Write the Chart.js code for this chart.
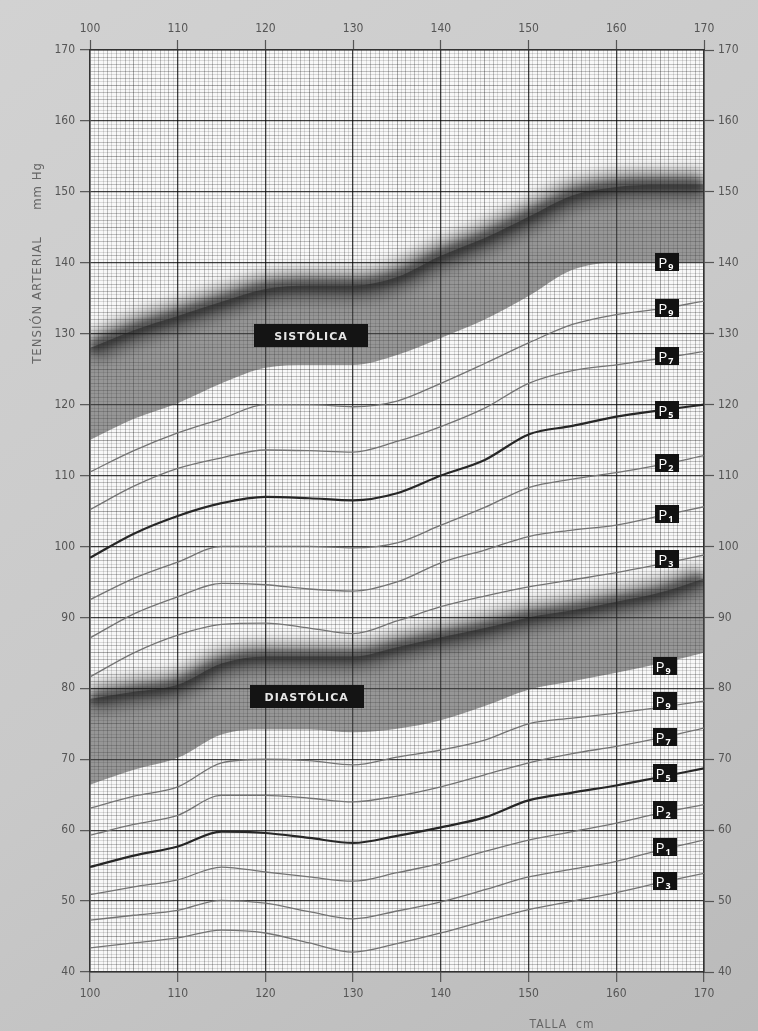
<!DOCTYPE html>
<html><head><meta charset="utf-8">
<script src="https://cdn.jsdelivr.net/npm/chart.js@4.4.1/dist/chart.umd.min.js"></script>
<style>html,body{margin:0;padding:0;background:#c8c8c8;overflow:hidden}#wrap{width:758px;height:1031px}</style>
</head><body><div id="wrap"><canvas id="c" width="758" height="1031"></canvas></div>
<script>
// ---- data (height in cm vs blood pressure in mm Hg) ----
const heights = [100,105,110,115,120,125,130,135,140,145,150,155,160,165,170];
// systolic
const sysUpper = [128,130.5,132.5,134.5,136.3,136.8,136.8,138,141,143.5,146.5,149.5,150.7,151,151];
const sysP97 = [115,118,120.2,123,125.2,125.6,125.6,127,129.4,132,135.3,139,140,140,140];
const sysP90 = [110.5,113.5,116,118,120,120,119.7,120.5,123,125.8,128.7,131.3,132.7,133.5,134.6];
const sysP75 = [105.2,108.5,111,112.5,113.6,113.5,113.3,114.8,116.9,119.5,123,124.8,125.6,126.5,127.5];
const sysP50 = [98.4,101.8,104.3,106.1,107,106.8,106.5,107.5,110,112.2,115.8,117,118.3,119.2,120];
const sysP25 = [92.5,95.5,97.8,100,100,100,99.8,100.5,103,105.5,108.3,109.5,110.4,111.5,112.8];
const sysP10 = [87.1,90.5,92.9,94.8,94.6,94,93.7,95,97.7,99.5,101.4,102.3,103,104.3,105.6];
const sysP3  = [81.6,85,87.5,89,89.2,88.5,87.7,89.5,91.5,93,94.3,95.3,96.3,97.5,98.8];
// diastolic
const diaUpper = [78.5,79.5,80.5,83.5,84.5,84.5,84.5,85.8,87.2,88.5,90,91,92.2,93.5,95.5];
const diaP97 = [66.4,68.5,70.2,73.5,74.2,74.2,73.8,74.3,75.5,77.5,79.8,81,82.2,83.5,85];
const diaP90 = [63.1,64.8,66.1,69.5,70,69.8,69.2,70.3,71.3,72.7,75,75.8,76.5,77.3,78.2];
const diaP75 = [59.3,60.8,62.1,64.9,64.9,64.5,64,64.8,66.1,67.8,69.5,70.8,71.8,73,74.4];
const diaP50 = [54.8,56.4,57.7,59.8,59.6,58.9,58.2,59.2,60.4,61.8,64.2,65.3,66.3,67.5,68.7];
const diaP25 = [50.9,52,53,54.8,54.1,53.4,52.8,54,55.3,57,58.6,59.8,61,62.4,63.6];
const diaP10 = [47.3,48,48.7,50.1,49.7,48.5,47.5,48.6,49.9,51.6,53.4,54.5,55.6,57.2,58.6];
const diaP3  = [43.4,44.1,44.8,45.9,45.5,44.1,42.8,44,45.5,47.2,48.8,50,51.2,52.6,53.9];
// percentile tags at the right
const tagDigits = ['9','9','7','5','2','1','3'];
const sysTagY = [140.1,133.6,126.9,119.3,111.8,104.6,98.3];
const diaTagY = [83.1,78.2,73.1,68.1,62.8,57.6,52.8];
const sysTagX = 165.8, diaTagX = 165.5;
// band names
const bandNames = ['SISTÓLICA','DIASTÓLICA'];
const bandNameX = [125.2,124.7];
const bandNameY = [129.7,78.8];
// axis ranges / titles
const xMin = 100, xMax = 170, yMin = 40, yMax = 170;
const yTitleA = 'TENSIÓN ARTERIAL';
const yTitleB = 'mm Hg';
const xTitle = 'TALLA  cm';

const FONT = "'DejaVu Sans Condensed','DejaVu Sans',sans-serif";
const snap = v => Math.round(v*2)/2;
const pts = arr => heights.map((h,i)=>({x:h,y:arr[i]}));

function gcol(ctx){
  const v = snap(ctx.tick.value);
  if (v%10===0) return 'rgba(0,0,0,0.75)';
  if (v%5===0) return 'rgba(0,0,0,0.32)';
  if (v%1===0) return 'rgba(0,0,0,0.23)';
  return 'rgba(0,0,0,0.12)';
}
function gw(ctx){
  const v = snap(ctx.tick.value);
  if (v%10===0) return 1.3;
  return 1;
}
function tcol(ctx){ return snap(ctx.tick.value)%10===0 ? '#555' : 'rgba(0,0,0,0)'; }
function tlab(v){ v = snap(v); return v%10===0 ? String(v) : ''; }

function line(arr, color, width, order){
  return {data: pts(arr), borderColor: color, borderWidth: width, pointRadius: 0,
          fill: false, cubicInterpolationMode: 'monotone', order: order};
}
function blurLine(arr, color, width, blur){
  const d = line(arr, color, width, 10); d.blurPx = blur; return d;
}

const grey = 'rgba(70,70,70,0.55)';
const datasets = [
  {data: pts(sysUpper), borderWidth: 0, pointRadius: 0, fill: '+1', backgroundColor: grey, cubicInterpolationMode:'monotone', order: 20},
  {data: pts(sysP97), borderWidth: 0, pointRadius: 0, fill: false, cubicInterpolationMode:'monotone', order: 20},
  {data: pts(diaUpper), borderWidth: 0, pointRadius: 0, fill: '+1', backgroundColor: grey, cubicInterpolationMode:'monotone', order: 20},
  {data: pts(diaP97), borderWidth: 0, pointRadius: 0, fill: false, cubicInterpolationMode:'monotone', order: 20},
  blurLine(sysUpper,'rgba(25,25,25,0.5)',28,7), blurLine(sysUpper,'rgba(20,20,20,0.45)',12,3),
  blurLine(diaUpper,'rgba(25,25,25,0.5)',26,7), blurLine(diaUpper,'rgba(20,20,20,0.45)',11,3),
  line(sysP90,'#747474',1.3,1), line(sysP75,'#747474',1.3,1), line(sysP50,'#262626',2.2,1),
  line(sysP25,'#747474',1.3,1), line(sysP10,'#747474',1.3,1), line(sysP3,'#747474',1.3,1),
  line(diaP90,'#747474',1.3,1), line(diaP75,'#747474',1.3,1), line(diaP50,'#262626',2.2,1),
  line(diaP25,'#747474',1.3,1), line(diaP10,'#747474',1.3,1), line(diaP3,'#747474',1.3,1)
];

const blurPlugin = {
  id:'blurPlugin',
  beforeDatasetDraw(chart, args){
    const ds = chart.data.datasets[args.index];
    if (ds.blurPx){ chart.ctx.save(); chart.ctx.filter = 'blur(' + ds.blurPx + 'px)'; }
  },
  afterDatasetDraw(chart, args){
    const ds = chart.data.datasets[args.index];
    if (ds.blurPx){ chart.ctx.restore(); }
  }
};
const paper = {
  id:'paper',
  beforeDraw(chart){
    const {ctx, chartArea:a} = chart;
    ctx.save();
    const g = ctx.createLinearGradient(0,0,758,1031);
    g.addColorStop(0,'#d2d2d2'); g.addColorStop(0.5,'#c9c9c9'); g.addColorStop(1,'#bababa');
    ctx.fillStyle = g; ctx.fillRect(0,0,758,1031);
    ctx.fillStyle = '#f8f8f8';
    ctx.fillRect(a.left,a.top,a.right-a.left,a.bottom-a.top);
    ctx.restore();
  }
};
const tags = {
  id:'tags',
  afterDatasetsDraw(chart){
    const {ctx, scales:{x,y}} = chart;
    ctx.save();
    function tag(ux,uy,d){
      const px = x.getPixelForValue(ux), py = y.getPixelForValue(uy);
      ctx.fillStyle = '#121212';
      ctx.fillRect(Math.round(px-12), Math.round(py-9), 24, 18);
      ctx.fillStyle = '#ffffff';
      ctx.textBaseline = 'alphabetic'; ctx.textAlign = 'left';
      ctx.font = "15px 'Open Sans', sans-serif";
      ctx.fillText('P', px-9, py+6);
      ctx.font = "bold 9px 'Open Sans', sans-serif";
      ctx.fillText(d, px+1, py+8);
    }
    tagDigits.forEach((d,i)=>tag(sysTagX, sysTagY[i], d));
    tagDigits.forEach((d,i)=>tag(diaTagX, diaTagY[i], d));
    bandNames.forEach((t,i)=>{
      const px = x.getPixelForValue(bandNameX[i]), py = y.getPixelForValue(bandNameY[i]);
      ctx.fillStyle = '#141414';
      ctx.fillRect(Math.round(px-57), Math.round(py-11.5), 114, 23);
      ctx.fillStyle = '#e6e6e6';
      ctx.font = "bold 11px 'DejaVu Sans', sans-serif";
      ctx.letterSpacing = '1px';
      ctx.textAlign = 'center'; ctx.textBaseline = 'middle';
      ctx.fillText(t, px, py+1);
      ctx.letterSpacing = '0px';
    });
    ctx.restore();
  },
  afterDraw(chart){
    const {ctx} = chart;
    ctx.save();
    ctx.fillStyle = '#666';
    ctx.font = "13px " + FONT;
    ctx.letterSpacing = '1px';
    ctx.translate(38, 0);
    ctx.rotate(-Math.PI/2);
    ctx.textAlign = 'center'; ctx.textBaseline = 'middle';
    ctx.fillText(yTitleA, -300, 0);
    ctx.fillText(yTitleB, -186, 0);
    ctx.restore();
    ctx.save();
    ctx.fillStyle = '#666';
    ctx.font = "12px " + FONT;
    ctx.letterSpacing = '1px';
    ctx.textAlign = 'center'; ctx.textBaseline = 'top';
    ctx.fillText(xTitle, 562, 1019);
    ctx.restore();
  }
};

const tickFont = {family: FONT, size: 12};
new Chart(document.getElementById('c'), {
  type: 'line',
  data: {datasets},
  plugins: [paper, blurPlugin, tags],
  options: {
    responsive: false, animation: false, devicePixelRatio: 1,
    layout: {padding: 0},
    plugins: {legend: {display: false}, tooltip: {enabled: false}},
    scales: {
      x: {type:'linear', position:'bottom', min:xMin, max:xMax,
          ticks:{stepSize:0.5, autoSkip:false, maxRotation:0, callback:tlab, color:'#555', font:tickFont, padding:5},
          grid:{color:gcol, lineWidth:gw, tickColor:tcol, tickLength:10, tickWidth:1.2},
          border:{display:true, color:'#333', width:1.5},
          afterFit(s){ s.height = 59; }},
      x2: {type:'linear', position:'top', min:xMin, max:xMax,
          ticks:{stepSize:10, color:'#555', font:tickFont, padding:4, maxRotation:0},
          grid:{drawOnChartArea:false, tickLength:10, color:'#555', tickWidth:1.2},
          border:{display:true, color:'#333', width:1.5},
          afterFit(s){ s.height = 50; }},
      y: {type:'linear', position:'left', min:yMin, max:yMax,
          ticks:{stepSize:0.5, autoSkip:false, callback:tlab, color:'#555', font:tickFont, padding:5},
          grid:{color:gcol, lineWidth:gw, tickColor:tcol, tickLength:10, tickWidth:1.2},
          border:{display:true, color:'#333', width:1.5},
          afterFit(s){ s.width = 90; }},
      y2: {type:'linear', position:'right', min:yMin, max:yMax,
          ticks:{stepSize:10, color:'#555', font:tickFont, padding:4},
          grid:{drawOnChartArea:false, tickLength:10, color:'#555', tickWidth:1.2},
          border:{display:true, color:'#333', width:1.5},
          afterFit(s){ s.width = 54; }}
    }
  }
});
</script></body></html>
